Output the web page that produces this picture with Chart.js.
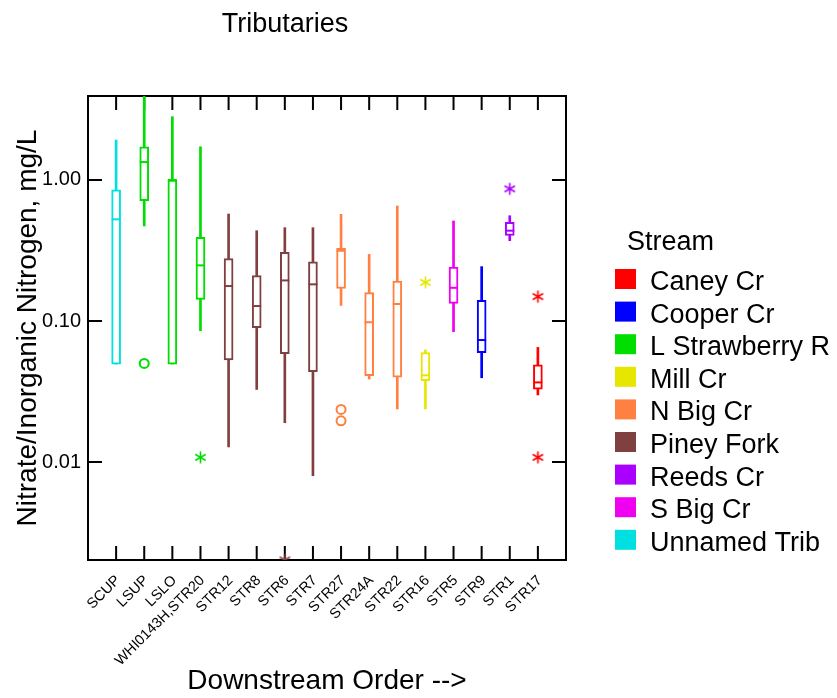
<!DOCTYPE html>
<html>
<head>
<meta charset="utf-8">
<title>Tributaries</title>
<script src="https://cdn.jsdelivr.net/npm/chart.js@4.4.1/dist/chart.umd.min.js"></script>
<style>
  html, body { margin: 0; padding: 0; background: #fff; }
</style>
</head>
<body>
<canvas id="boxChart" width="837" height="698"></canvas>
<script>
// Sites in downstream order
const sites = ['SCUP', 'LSUP', 'LSLO', 'WHI0143H,STR20', 'STR12', 'STR8', 'STR6', 'STR7',
  'STR27', 'STR24A', 'STR22', 'STR16', 'STR5', 'STR9', 'STR1', 'STR17'];
const siteStream = ['Unnamed Trib', 'L Strawberry R', 'L Strawberry R', 'L Strawberry R',
  'Piney Fork', 'Piney Fork', 'Piney Fork', 'Piney Fork', 'N Big Cr', 'N Big Cr', 'N Big Cr',
  'Mill Cr', 'S Big Cr', 'Cooper Cr', 'Reeds Cr', 'Caney Cr'];

// Box plot stats, mg/L
const whiskerLow  = [0.0495, 0.472, 0.0495, 0.0853, 0.0128, 0.0327, 0.019, 0.0080, 0.129, 0.0388, 0.0238, 0.0238, 0.084, 0.0396, 0.371, 0.0299];
const q1          = [0.0495, 0.713, 0.0495, 0.1425, 0.0529, 0.0897, 0.0586, 0.0437, 0.170, 0.041, 0.0399, 0.0377, 0.1334, 0.0596, 0.405, 0.0328];
const median      = [0.526, 1.34, 1.0, 0.248, 0.177, 0.1277, 0.194, 0.182, 0.315, 0.098, 0.132, 0.0412, 0.172, 0.0733, 0.437, 0.0367];
const q3          = [0.85, 1.72, 1.0, 0.392, 0.277, 0.210, 0.307, 0.263, 0.327, 0.159, 0.192, 0.0596, 0.2415, 0.140, 0.501, 0.0488];
const whiskerHigh = [1.92, 4.2, 2.81, 1.72, 0.574, 0.437, 0.459, 0.459, 0.571, 0.297, 0.654, 0.0623, 0.512, 0.243, 0.558, 0.065];

// Outliers: site index, value, mark
const outlierSite  = [1, 3, 6, 8, 8, 11, 14, 15, 15];
const outlierValue = [0.05, 0.0108, 0.00202, 0.0236, 0.0196, 0.188, 0.865, 0.149, 0.0108];
const outlierMark  = ['circle', 'star', 'star', 'circle', 'circle', 'star', 'star', 'star', 'star'];

const streams = ['Caney Cr', 'Cooper Cr', 'L Strawberry R', 'Mill Cr', 'N Big Cr', 'Piney Fork', 'Reeds Cr', 'S Big Cr', 'Unnamed Trib'];
const streamColors = ['#ff0000', '#0000ff', '#00dd00', '#e6e600', '#ff8040', '#804040', '#aa00ff', '#f000f0', '#00e0e0'];

const yTicks = [0.01, 0.1, 1];

const FONT = 'Liberation Sans, Arial, sans-serif';
const colorOf = name => streamColors[streams.indexOf(name)];
const siteColors = siteStream.map(colorOf);

// six-armed asterisk marker
function asterisk(color) {
    const c = document.createElement('canvas');
    c.width = 15; c.height = 15;
    const g = c.getContext('2d');
    g.strokeStyle = color;
    g.lineWidth = 1.6;
    g.beginPath();
    for (let k = 0; k < 3; k++) {
        const a = Math.PI / 2 + k * Math.PI / 3;
        g.moveTo(7.5 + Math.cos(a) * 6, 7.5 - Math.sin(a) * 6);
        g.lineTo(7.5 - Math.cos(a) * 6, 7.5 + Math.sin(a) * 6);
    }
    g.stroke();
    return c;
}

const framePlugin = {
    id: 'frame',
    beforeDatasetsDraw(chart) {
        const { ctx, chartArea: a, scales: { x, y } } = chart;
        ctx.save();
        ctx.strokeStyle = '#000';
        ctx.lineWidth = 2;
        ctx.strokeRect(a.left, a.top, a.right - a.left, a.bottom - a.top);
        ctx.beginPath();
        x.ticks.forEach(t => {
            const px = x.getPixelForValue(t.value);
            ctx.moveTo(px, a.top); ctx.lineTo(px, a.top + 14);
            ctx.moveTo(px, a.bottom); ctx.lineTo(px, a.bottom - 14);
        });
        y.ticks.forEach(t => {
            const py = y.getPixelForValue(t.value);
            ctx.moveTo(a.left, py); ctx.lineTo(a.left + 14, py);
            ctx.moveTo(a.right, py); ctx.lineTo(a.right - 14, py);
        });
        ctx.stroke();
        ctx.restore();
    },
    afterDraw(chart) {
        const { ctx } = chart;
        ctx.save();
        // title
        ctx.fillStyle = '#000';
        ctx.textAlign = 'center';
        ctx.textBaseline = 'alphabetic';
        ctx.font = '27px ' + FONT;
        ctx.fillText('Tributaries', 285, 32);

        // legend
        ctx.textAlign = 'left';
        ctx.fillText('Stream', 627, 250);
        streams.forEach((s, i) => {
            const top = 269 + i * 32.6;
            ctx.fillStyle = streamColors[i];
            ctx.fillRect(615, top, 21, 20);
            ctx.fillStyle = '#000';
            ctx.fillText(s, 650, top + 21);
        });
        ctx.restore();
    }
};

const idx = sites.map((s, i) => i + 1);

new Chart(document.getElementById('boxChart'), {
    type: 'bar',
    data: {
        datasets: [
            {
                label: 'whisker',
                data: idx.map((x, i) => ({ x, y: [whiskerLow[i], whiskerHigh[i]] })),
                backgroundColor: siteColors,
                borderWidth: 0,
                barThickness: 2,
                grouped: false,
                clip: 0,
                order: 3,
            },
            {
                label: 'box',
                data: idx.map((x, i) => ({ x, y: [q1[i], q3[i]] })),
                backgroundColor: '#ffffff',
                borderColor: siteColors,
                borderWidth: 2,
                borderSkipped: false,
                barThickness: 9,
                grouped: false,
                clip: 0,
                order: 2,
            },
            {
                type: 'scatter',
                label: 'median',
                data: idx.map((x, i) => ({ x, y: median[i] })),
                pointStyle: 'line',
                pointRadius: 4.5,
                pointBorderWidth: 2,
                pointBorderColor: siteColors,
                clip: 0,
                order: 1,
            },
            {
                type: 'scatter',
                label: 'outliers',
                data: outlierSite.map((s, i) => ({ x: s + 1, y: outlierValue[i] })),
                pointStyle: outlierMark.map((m, i) => m === 'circle' ? 'circle' : asterisk(siteColors[outlierSite[i]])),
                pointRadius: 4.5,
                pointBorderWidth: 2,
                pointBorderColor: outlierSite.map(s => siteColors[s]),
                pointBackgroundColor: 'rgba(0,0,0,0)',
                clip: 0,
                order: 0,
            },
        ]
    },
    options: {
        responsive: false,
        animation: false,
        events: [],
        layout: { padding: { top: 96, right: 271, left: 0, bottom: 0 } },
        plugins: { legend: { display: false }, tooltip: { enabled: false } },
        scales: {
            x: {
                type: 'linear',
                min: 0,
                max: 17,
                offset: false,
                grid: { display: false, drawTicks: false },
                border: { display: false },
                afterBuildTicks: s => { s.ticks = idx.map(v => ({ value: v })); },
                afterFit: s => { s.height = 138; },
                ticks: {
                    autoSkip: false,
                    maxRotation: 45,
                    minRotation: 45,
                    padding: 12,
                    labelOffset: 2,
                    color: '#000',
                    font: { size: 14.5, family: FONT },
                    callback: v => sites[v - 1],
                },
                title: {
                    display: true,
                    text: 'Downstream Order -->',
                    color: '#000',
                    font: { size: 28, family: FONT },
                    padding: 0,
                },
            },
            y: {
                type: 'logarithmic',
                min: 0.00202,
                max: 3.94,
                grid: { display: false, drawTicks: false },
                border: { display: false },
                afterBuildTicks: s => { s.ticks = yTicks.map(v => ({ value: v })); },
                afterFit: s => { s.width = 88; },
                ticks: {
                    padding: 7,
                    color: '#000',
                    font: { size: 20, family: FONT },
                    callback: v => Number(v).toFixed(2),
                },
                title: {
                    display: true,
                    text: 'Nitrate/Inorganic Nitrogen, mg/L',
                    color: '#000',
                    font: { size: 28, family: FONT },
                    padding: { top: 11, bottom: 0 },
                },
            },
        },
    },
    plugins: [framePlugin],
});
</script>
</body>
</html>
